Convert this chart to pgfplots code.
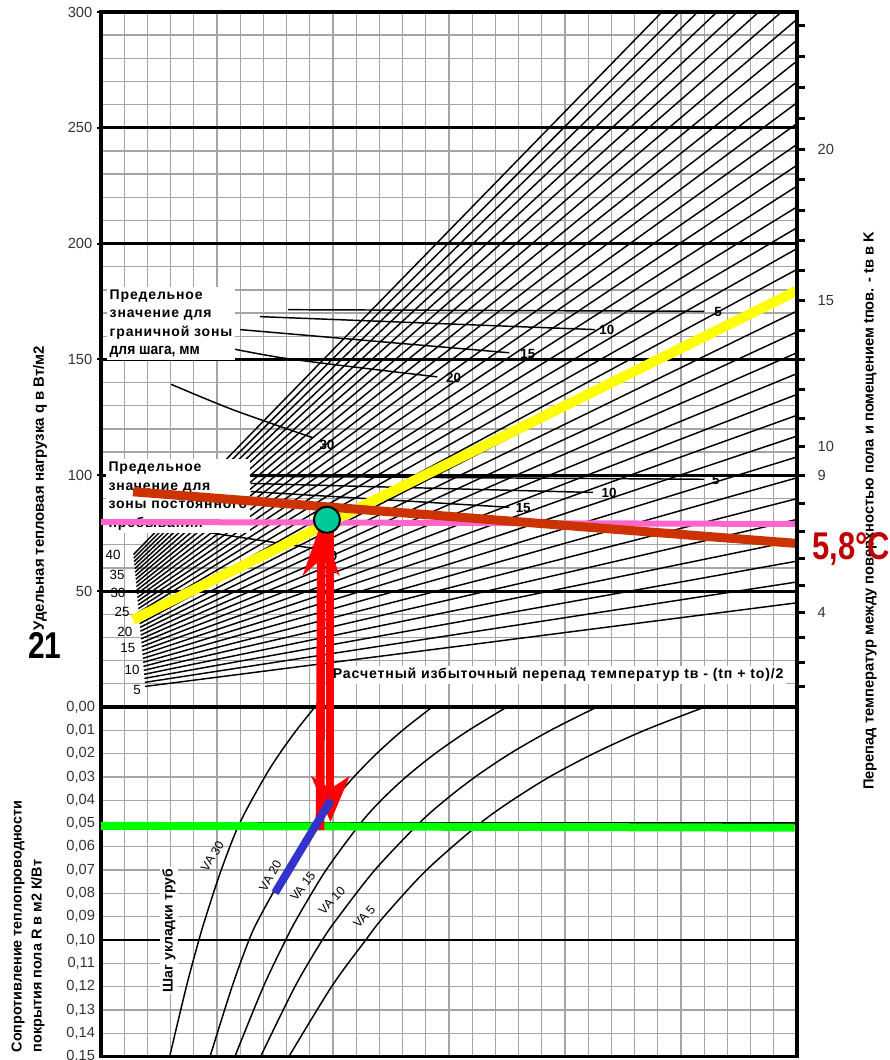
\documentclass[border=0pt]{standalone}
\usepackage{fontspec}
\setmainfont{Liberation Sans}
\newfontfamily\nb{Liberation Sans}[FakeStretch=0.9]
\newfontfamily\nn{Liberation Sans}[FakeStretch=0.8]
\newfontfamily\ls{Liberation Sans}[LetterSpace=6]
\usepackage{pgfplots}
\pgfplotsset{compat=1.18}
\usetikzlibrary{arrows.meta}
\definecolor{gridgray}{RGB}{165,165,165}
\definecolor{hlyellow}{RGB}{255,255,0}
\definecolor{hlbrown}{RGB}{204,51,0}
\definecolor{hlpink}{RGB}{255,102,204}
\definecolor{hlgreen}{RGB}{0,255,0}
\definecolor{hlblue}{RGB}{51,51,204}
\definecolor{dotcol}{RGB}{0,200,150}
\definecolor{darkred}{RGB}{192,0,0}
\newcommand\pp[2]{({(#1)*0.75pt},{(1060-(#2))*0.75pt})}
\pgfplotsset{
  fan/.style={black,line width=1.1pt},
  lim/.style={black,line width=1.1pt},
  va/.style={black,line width=1.1pt,smooth,tension=0.5},
}
\tikzset{
  fl/.style={inner sep=0pt, font=\fontsize{10}{12}\selectfont},
  ll/.style={inner sep=0.5pt, font=\bfseries\fontsize{10}{12}\selectfont},
  val/.style={inner sep=0pt, font=\fontsize{9.2}{11}\selectfont},
}
\begin{document}
\begin{tikzpicture}
\useasboundingbox (0,0) rectangle (666.75pt,795pt);
% ---------------- bottom panel ----------------
\begin{axis}[at={(75.75pt,2.625pt)}, anchor=south west, scale only axis,
  width=522pt, height=262.125pt,
  xmin=0, xmax=30, ymin=0, ymax=0.15, y dir=reverse,
  xtick={0,1,...,30}, xticklabels={}, xtick style={draw=none}, xmajorgrids,
  ytick={0,0.01,0.02,0.03,0.04,0.05,0.06,0.07,0.08,0.09,0.1,0.11,0.12,0.13,0.14,0.15},
  yticklabels={{0,00},{0,01},{0,02},{0,03},{0,04},{0,05},{0,06},{0,07},{0,08},{0,09},{0,10},{0,11},{0,12},{0,13},{0,14},{0,15}},
  ymajorgrids,
  major grid style={gridgray,line width=1pt},
  major tick length=0pt, minor tick length=0pt,
  axis line style={line width=2.6pt},
  /pgf/number format/assume math mode=true,
  yticklabel style={font=\fontsize{11}{13}\selectfont, text=black!80, xshift=-1pt},
  clip=true]
\draw[black,line width=1.8pt] (axis cs:0,0.05) -- (axis cs:30,0.05);
\draw[black,line width=1.8pt] (axis cs:0,0.1) -- (axis cs:30,0.1);
\draw[black,line width=3pt] (axis cs:0,0) -- (axis cs:30,0);
% pipe spacing curves VA 30, 20, 15, 10, 5
\addplot[va] coordinates {(9.22,0) (8.42,0.01) (7.70,0.02) (7.06,0.03) (5.97,0.05) (5.18,0.07) (4.52,0.09) (4.22,0.10) (3.68,0.12) (2.96,0.15)};
\addplot[va] coordinates {(14.28,0) (13.00,0.01) (11.88,0.02) (10.90,0.03) (10.04,0.04) (9.30,0.05) (7.98,0.07) (6.85,0.09) (6.38,0.10) (5.65,0.12) (4.70,0.15)};
\addplot[va] coordinates {(17.50,0) (15.85,0.01) (14.40,0.02) (13.15,0.03) (12.08,0.04) (11.18,0.05) (9.70,0.07) (8.49,0.09) (7.96,0.10) (7.00,0.12) (5.77,0.15)};
\addplot[va] coordinates {(21.38,0) (19.38,0.01) (17.63,0.02) (16.13,0.03) (14.83,0.04) (13.70,0.05) (11.80,0.07) (10.24,0.09) (9.54,0.10) (8.36,0.12) (6.88,0.15)};
\addplot[va] coordinates {(26.03,0) (23.43,0.01) (21.23,0.02) (19.33,0.03) (17.73,0.04) (16.33,0.05) (14.03,0.07) (12.19,0.09) (11.41,0.10) (9.94,0.12) (8.10,0.15)};
\node[fill=white, rotate=90, inner sep=1.5pt, font=\bfseries\fontsize{10.5}{12}\selectfont] at (axis cs:2.93,0.096) {Шаг укладки труб};
\node[val, rotate=58] at (axis cs:4.80,0.0640) {VA 30};
\node[val, rotate=60] at (axis cs:7.30,0.0725) {VA 20};
\node[val, rotate=52] at (axis cs:8.70,0.0770) {VA 15};
\node[val, rotate=47] at (axis cs:9.95,0.0830) {VA 10};
\node[val, rotate=47] at (axis cs:11.35,0.0900) {VA 5};
\addplot[hlgreen, line width=6pt] coordinates {(0,0.0510) (29.9,0.0518)};
\end{axis}
% ---------------- top panel ----------------
\begin{axis}[at={(75.75pt,264.75pt)}, anchor=south west, scale only axis,
  width=522pt, height=521.25pt,
  xmin=0, xmax=30, ymin=0, ymax=300,
  xtick={0,1,...,30}, xticklabels={}, xtick style={draw=none}, xmajorgrids,
  ytick={50,100,...,300}, minor ytick={10,20,...,290},
  ymajorgrids, yminorgrids,
  major grid style={gridgray,line width=1pt},
  minor grid style={gridgray,line width=1pt},
  ytick pos=left, tick align=outside, major tick length=3pt, minor tick length=0pt,
  ytick style={line width=1.5pt, black},
  axis line style={line width=2.6pt},
  /pgf/number format/assume math mode=true,
  yticklabel style={font=\fontsize{11}{13}\selectfont, text=black!80},
  clip=false]
\draw[black,line width=2.2pt] (axis cs:0,50) -- (axis cs:30,50);
\draw[black,line width=2.2pt] (axis cs:0,100) -- (axis cs:30,100);
\draw[black,line width=2.2pt] (axis cs:0,150) -- (axis cs:30,150);
\draw[black,line width=2.2pt] (axis cs:0,200) -- (axis cs:30,200);
\draw[black,line width=2.2pt] (axis cs:0,250) -- (axis cs:30,250);
% fan of lines (5 ... 40)
\addplot[fan] coordinates {(1.900,8.87) (30,44.98)};
\addplot[fan] coordinates {(1.886,10.62) (30,53.97)};
\addplot[fan] coordinates {(1.871,12.36) (30,62.97)};
\addplot[fan] coordinates {(1.857,14.10) (30,71.96)};
\addplot[fan] coordinates {(1.843,15.83) (30,80.96)};
\addplot[fan] coordinates {(1.829,17.55) (30,89.95)};
\addplot[fan] coordinates {(1.814,19.26) (30,98.95)};
\addplot[fan] coordinates {(1.800,20.97) (30,107.94)};
\addplot[fan] coordinates {(1.786,22.67) (30,116.94)};
\addplot[fan] coordinates {(1.771,24.36) (30,125.93)};
\addplot[fan] coordinates {(1.757,26.05) (30,134.93)};
\addplot[fan] coordinates {(1.743,27.73) (30,143.92)};
\addplot[fan] coordinates {(1.729,29.40) (30,152.92)};
\addplot[fan] coordinates {(1.714,31.06) (30,161.91)};
\addplot[fan] coordinates {(1.700,32.72) (30,170.91)};
\addplot[fan] coordinates {(1.686,34.37) (30,179.90)};
\addplot[fan] coordinates {(1.671,36.00) (30,188.90)};
\addplot[fan] coordinates {(1.657,37.64) (30,197.89)};
\addplot[fan] coordinates {(1.643,39.27) (30,206.89)};
\addplot[fan] coordinates {(1.629,40.89) (30,215.88)};
\addplot[fan] coordinates {(1.614,42.49) (30,224.88)};
\addplot[fan] coordinates {(1.600,44.10) (30,233.87)};
\addplot[fan] coordinates {(1.586,45.70) (30,242.87)};
\addplot[fan] coordinates {(1.571,47.29) (30,251.86)};
\addplot[fan] coordinates {(1.557,48.87) (30,260.86)};
\addplot[fan] coordinates {(1.543,50.45) (30,269.85)};
\addplot[fan] coordinates {(1.529,52.02) (30,278.85)};
\addplot[fan] coordinates {(1.514,53.57) (30,287.84)};
\addplot[fan] coordinates {(1.500,55.13) (30,296.84)};
\addplot[fan] coordinates {(1.486,56.67) (29.33,300)};
\addplot[fan] coordinates {(1.471,58.21) (28.35,300)};
\addplot[fan] coordinates {(1.457,59.74) (27.43,300)};
\addplot[fan] coordinates {(1.443,61.27) (26.55,300)};
\addplot[fan] coordinates {(1.429,62.78) (25.72,300)};
\addplot[fan] coordinates {(1.414,64.29) (24.93,300)};
\addplot[fan] coordinates {(1.400,65.79) (24.18,300)};
% fan labels
\node[fl] at (axis cs:1.55,7.3) {5};
\node[fl] at (axis cs:1.34,16.0) {10};
\node[fl] at (axis cs:1.16,25.5) {15};
\node[fl] at (axis cs:1.03,32.4) {20};
\node[fl] at (axis cs:0.91,41.0) {25};
\node[fl] at (axis cs:0.73,49.2) {30};
\node[fl] at (axis cs:0.69,57.0) {35};
\node[fl] at (axis cs:0.52,65.7) {40};
% limit lines, edge zone
\addplot[lim] coordinates {(8.06,171.5) (26.0,170.8)};
\addplot[lim] coordinates {(6.85,168.5) (21.3,162.9)};
\addplot[lim] coordinates {(6.0,162.9) (17.6,152.9)};
\addplot[lim,smooth] coordinates {(4.83,156.4) (8.02,150.4) (14.5,142.5)};
\addplot[lim,smooth] coordinates {(3.02,139.3) (5.69,128.3) (9.14,116.2)};
% limit lines, occupied zone
\addplot[lim] coordinates {(6.45,99.6) (26.0,98.3)};
\addplot[lim] coordinates {(6.45,96.5) (21.2,92.6)};
\addplot[lim] coordinates {(6.45,93.0) (17.6,86.2)};
\addplot[lim] coordinates {(6.45,90.0) (13.5,82.0)};
\addplot[lim] coordinates {(4.70,75.2) (9.60,67.8)};
\node[ll] at (axis cs:26.6,170.6) {5};
\node[ll] at (axis cs:21.8,162.9) {10};
\node[ll] at (axis cs:18.4,152.5) {15};
\node[ll] at (axis cs:15.2,142.1) {20};
\node[ll] at (axis cs:9.74,113.2) {30};
\node[ll] at (axis cs:26.5,98.1) {5};
\node[ll] at (axis cs:21.9,92.4) {10};
\node[ll] at (axis cs:18.2,86.0) {15};
\node[ll] at (axis cs:9.87,65.2) {30};
% text boxes
\node[anchor=north west, fill=white, inner sep=2pt, align=left, font=\ls\bfseries\fontsize{10.5}{13.9}\selectfont] at (axis cs:0.25,181.5)
  {Предельное\\значение для\\граничной зоны\\{\nb\bfseries\fontsize{11.5}{13.9}\selectfont для шага, мм}};
\node[anchor=north west, fill=white, inner sep=2pt, align=left, font=\ls\bfseries\fontsize{10.5}{13.9}\selectfont] at (axis cs:0.2,107)
  {Предельное\\значение для\\зоны постоянного\\пребывания};
\node[anchor=west, fill=white, inner sep=2pt, font=\ls\bfseries\fontsize{10.6}{12}\selectfont] at (axis cs:9.87,13.8)
  {Расчетный избыточный перепад температур tв - (tп + tо)/2};
% highlighted construction
\addplot[hlpink, line width=4.5pt] coordinates {(0,79.9) (30,79.0)};
\addplot[hlyellow, line width=7.5pt] coordinates {(1.38,37.6) (30,179.7)};
\addplot[hlbrown, line width=6.8pt] coordinates {(1.38,92.9) (30,70.6)};
\addplot[only marks, mark=*, mark size=9.8pt, mark options={fill=dotcol, draw=black, line width=1.5pt}] coordinates {(9.74,80.8)};
\addplot[red, line width=6.5pt, -{Stealth[length=40pt,width=27pt,inset=12pt]}] coordinates {(9.44,-53.1) (9.50,80.0)};
\addplot[red, line width=6pt, -{Stealth[length=34pt,width=28pt,inset=9pt]}] coordinates {(9.89,76.0) (9.89,-49.7)};
\end{axis}
% ---------------- right axis (floor surface excess temperature) ----------------
\begin{axis}[at={(75.75pt,264.75pt)}, anchor=south west, scale only axis,
  width=522pt, height=521.25pt,
  xmin=0, xmax=30, ymin=0, ymax=300,
  axis x line=none, axis y line*=right,
  y axis line style={line width=2.6pt},
  ytick={8.92,19.12,29.87,40.99,52.39,64.02,75.85,87.85,100.01,112.30,124.71,137.23,149.87,162.59,175.41,188.32,201.31,214.37,227.51,240.71,253.98,267.32,280.71,294.17},
  yticklabels={,,,4,,,,,9,10,,,,,15,,,,,20,,,,},
  tick align=outside, major tick length=6pt,
  ytick style={line width=2.2pt, black},
  /pgf/number format/assume math mode=true,
  yticklabel style={font=\fontsize{11}{13}\selectfont, text=black!80, xshift=6pt}]
\addplot[draw=none] coordinates {(0,0) (30,300)};
\end{axis}
% ---------------- overlay on bottom panel ----------------
\begin{axis}[at={(75.75pt,2.625pt)}, anchor=south west, scale only axis,
  width=522pt, height=262.125pt,
  xmin=0, xmax=30, ymin=0, ymax=0.15, y dir=reverse, hide axis, clip=false]
\addplot[hlblue, line width=6pt] coordinates {(7.50,0.0798) (9.91,0.0399)};
\end{axis}
% ---------------- outer texts ----------------
\node[rotate=90, font=\bfseries\fontsize{11.2}{12}\selectfont] at \pp{40}{488} {Удельная тепловая нагрузка q в Вт/м2};
\node[rotate=90, anchor=west, font=\bfseries\fontsize{10.8}{12}\selectfont] at \pp{18}{1057} {Сопротивление теплопроводности};
\node[rotate=90, anchor=west, font=\bfseries\fontsize{10.8}{12}\selectfont] at \pp{38}{1057} {покрытия пола R в м2 К/Вт};
\node[rotate=90, font=\bfseries\fontsize{11}{12}\selectfont] at \pp{870}{511} {Перепад температур между поверхностью пола и помещением tпов. - tв в K};
\node[font=\nn\bfseries\fontsize{28}{30}\selectfont] at \pp{45}{645} {21};
\node[anchor=west, inner sep=0pt, text=darkred, font=\nn\bfseries\fontsize{29}{30}\selectfont] at \pp{812}{549} {5,8°C};
\end{tikzpicture}
\end{document}
